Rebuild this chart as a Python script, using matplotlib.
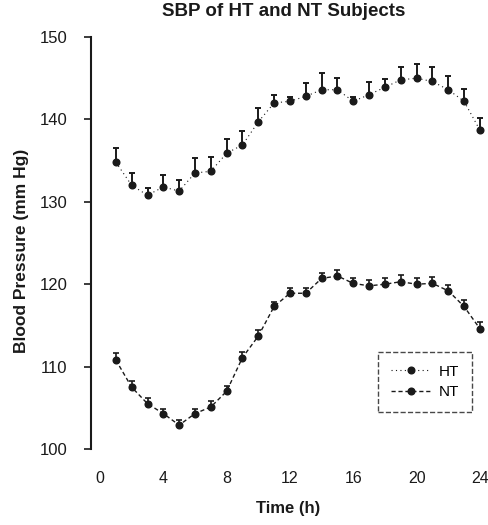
import numpy as np
import matplotlib
matplotlib.use("Agg")
import matplotlib.pyplot as plt
from matplotlib.lines import Line2D

hours = list(range(1, 25))
ht_sbp = [134.8, 132.0, 130.8, 131.8, 131.3, 133.5, 133.7, 135.9, 136.9, 139.7,
          142.0, 142.2, 142.8, 143.6, 143.6, 142.2, 143.0, 143.9, 144.8, 145.0,
          144.6, 143.6, 142.2, 138.7]
ht_err = [1.7, 1.5, 0.9, 1.5, 1.3, 1.8, 1.7, 1.7, 1.7, 1.7,
          1.0, 0.5, 1.6, 2.0, 1.4, 0.5, 1.5, 1.0, 1.6, 1.7,
          1.7, 1.7, 1.5, 1.5]
nt_sbp = [110.8, 107.5, 105.5, 104.3, 102.9, 104.3, 105.1, 107.0, 111.1, 113.7,
          117.3, 118.9, 118.9, 120.7, 121.0, 120.1, 119.8, 120.0, 120.3, 120.0,
          120.1, 119.2, 117.3, 114.6]
nt_err = [0.8, 0.8, 0.7, 0.6, 0.6, 0.6, 0.7, 0.7, 0.7, 0.7,
          0.6, 0.6, 0.6, 0.7, 0.7, 0.7, 0.7, 0.8, 0.8, 0.8,
          0.8, 0.7, 0.8, 0.8]
x_ticks = [0, 4, 8, 12, 16, 20, 24]
y_ticks = [100, 110, 120, 130, 140, 150]

plt.rcParams['font.family'] = ['Liberation Sans', 'DejaVu Sans']
ink = '#1a1a1a'
W, H = 488, 525

fig = plt.figure(figsize=(W/100, H/100), dpi=100)
ax = fig.add_axes([91/W, 1-449/H, 396/W, 412/H])

ax.errorbar(hours, ht_sbp, yerr=[np.zeros(len(ht_err)), ht_err], fmt='o',
            linestyle=(0, (1, 3)), lw=0.8, color=ink, ms=4.8, capsize=2.5,
            elinewidth=1.4, capthick=1.4)
ax.errorbar(hours, nt_sbp, yerr=[np.zeros(len(nt_err)), nt_err], fmt='o',
            linestyle=(0, (3, 2)), lw=1.0, color=ink, ms=4.8, capsize=2,
            elinewidth=1.2, capthick=1.2)

ax.set_xlim(-0.57, 24.45)
ax.set_ylim(100, 150)
ax.set_xticks(x_ticks)
ax.set_yticks(y_ticks)
ax.tick_params(axis='x', length=0, pad=16, labelsize=11.5, colors=ink)
ax.tick_params(axis='y', length=5, width=1.2, direction='out', labelsize=12, colors=ink, pad=12)
for s in ['top', 'right', 'bottom']:
    ax.spines[s].set_visible(False)
ax.spines['left'].set_linewidth(1.5)
ax.spines['left'].set_color(ink)

fig.text(288/W, 1-508/H, 'Time (h)', ha='center', va='center',
         fontsize=12, fontweight='bold', color=ink)
fig.text(22/W, 1-251/H, 'Blood Pressure (mm Hg)', ha='center', va='center',
         rotation=90, fontsize=12.5, fontweight='bold', color=ink)
fig.text(284/W, 1-12/H, 'SBP of HT and NT Subjects', ha='center', va='center',
         fontsize=13.5, fontweight='bold', color=ink)

handles = [Line2D([], [], color=ink, linestyle=(0, (1, 3)), lw=0.8, marker='o', ms=4.8),
           Line2D([], [], color=ink, linestyle=(0, (3, 2)), lw=1.0, marker='o', ms=4.8)]
leg = ax.legend(handles, ['HT', 'NT'], loc='lower right', bbox_to_anchor=(0.962, 0.09),
                fontsize=11, frameon=True, fancybox=False, handlelength=2.6,
                handletextpad=0.5, borderpad=0.85, labelspacing=0.4, borderaxespad=0)
fr = leg.get_frame()
fr.set_edgecolor(ink)
fr.set_linestyle('--')
fr.set_linewidth(1.0)

fig.savefig('out.png', dpi=100)
